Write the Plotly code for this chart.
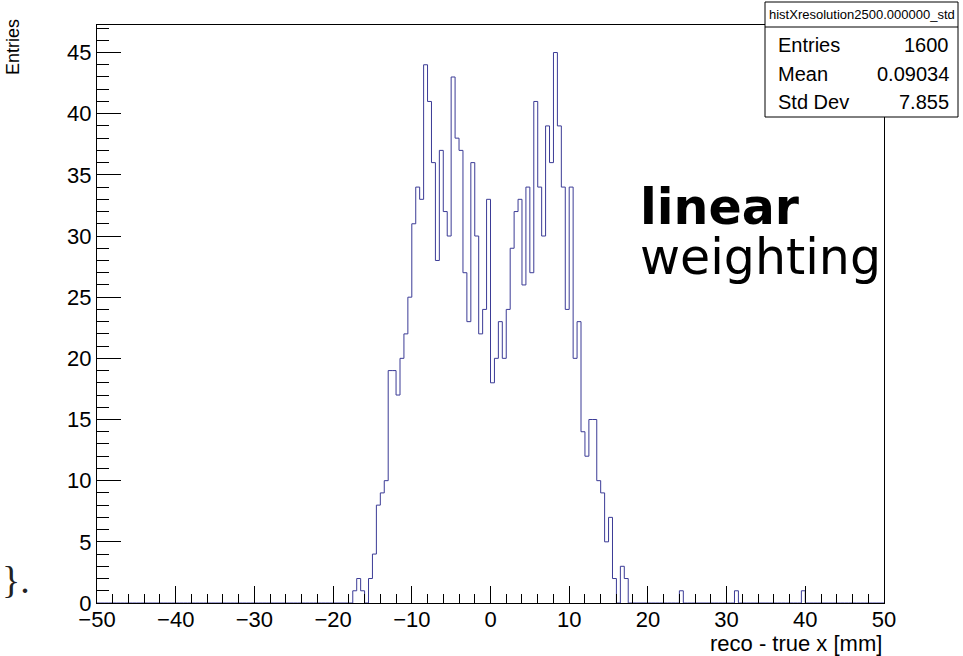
import numpy as np
import plotly.graph_objects as go

# ---------------- data ----------------
x_min, x_max = -50.0, 50.0
bin_width = 0.5
core_start = -17.5  # left edge of first bin in core_counts
core_counts = [1, 2, 1, 0, 2, 4, 8, 9, 10, 19, 19, 17, 20, 22, 25, 31, 34, 33,
               44, 41, 36, 28, 37, 32, 30, 43, 38, 37, 27, 23, 36, 30, 22, 24, 33,
               18, 20, 23, 20, 24, 29, 32, 33, 26, 34, 27, 41, 34, 30, 39, 36, 45,
               39, 34, 24, 34, 20, 23, 14, 12, 15, 15, 10, 9, 5, 7, 2, 0, 3, 2]
isolated_left_edges = [24.0, 31.0, 39.5]
isolated_counts = [1, 1, 1]

stats_name = "histXresolution2500.000000_std"
stats_labels = ["Entries", "Mean", "Std Dev"]
stats_values = ["1600", "0.09034", "7.855"]

x_title = "reco - true x [mm]"
y_title = "Entries"

# ---------------- build histogram ----------------
n_bins = int(round((x_max - x_min) / bin_width))
edges = x_min + bin_width * np.arange(n_bins + 1)
counts = np.zeros(n_bins)
i0 = int(round((core_start - x_min) / bin_width))
counts[i0:i0 + len(core_counts)] = core_counts
for e, c in zip(isolated_left_edges, isolated_counts):
    counts[int(round((e - x_min) / bin_width))] += c

xs = [edges[0]] + list(edges)
ys = [0.0] + list(counts) + [0.0]

y_max = counts.max() * 1.05

# ---------------- layout geometry (pixels) ----------------
W, H = 963, 656
L, R, T, B = 97, 884, 25, 603


def px_x(px):
    return (px - L) / (R - L)


def px_y(py):
    return (B - py) / (B - T)


FONT = "Liberation Sans, Arial, Helvetica, sans-serif"

fig = go.Figure()
fig.add_trace(go.Scatter(
    x=xs, y=ys, mode="lines", line=dict(shape="hv", color="#3b3b96", width=1),
    hoverinfo="skip", showlegend=False))

axis_common = dict(
    showline=True, linecolor="black", linewidth=1, mirror=True,
    ticks="inside", tickcolor="black", tickwidth=1,
    showgrid=False, zeroline=False,
    tickfont=dict(family=FONT, size=22, color="black"),
)

fig.update_xaxes(range=[x_min, x_max], tick0=0, dtick=10, ticklen=17,
                 ticklabelstandoff=-3,
                 minor=dict(ticks="inside", dtick=2, ticklen=9, tickcolor="black", tickwidth=1),
                 **axis_common)
fig.update_yaxes(range=[0, y_max], tick0=0, dtick=5, ticklen=24,
                 minor=dict(ticks="inside", dtick=1, ticklen=12, tickcolor="black", tickwidth=1),
                 **axis_common)

shapes = [
    dict(type="rect", xref="paper", yref="paper",
         x0=px_x(765), x1=px_x(958), y0=px_y(117), y1=px_y(2),
         line=dict(color="black", width=1), fillcolor="white", layer="above"),
    dict(type="line", xref="paper", yref="paper",
         x0=px_x(765), x1=px_x(958), y0=px_y(27), y1=px_y(27),
         line=dict(color="black", width=1), layer="above"),
]

annotations = [
    dict(text=stats_name, x=px_x(861.5), y=px_y(14.5), xanchor="center", yanchor="middle",
         font=dict(family=FONT, size=13, color="black")),
]
row_centers = [45, 74, 102]
for lab, val, yc in zip(stats_labels, stats_values, row_centers):
    annotations.append(dict(text=lab, x=px_x(776), y=px_y(yc), xanchor="left", yanchor="middle",
                            font=dict(family=FONT, size=20, color="black")))
    annotations.append(dict(text=val, x=px_x(951), y=px_y(yc), xanchor="right", yanchor="middle",
                            font=dict(family=FONT, size=20, color="black")))

annotations += [
    dict(text="<b>linear</b>", x=px_x(638), y=px_y(207), xanchor="left", yanchor="middle",
         font=dict(family="DejaVu Sans", size=49, color="black")),
    dict(text="weighting", x=px_x(638), y=px_y(257), xanchor="left", yanchor="middle",
         font=dict(family="DejaVu Sans", size=49, color="black")),
    dict(text=x_title, x=px_x(884), y=px_y(643), xanchor="right", yanchor="middle",
         font=dict(family=FONT, size=22, color="black")),
    dict(text=y_title, x=px_x(13), y=px_y(47), xanchor="center", yanchor="middle",
         textangle=-90, font=dict(family=FONT, size=18, color="black")),
    dict(text="}.", x=px_x(0), y=px_y(580), xanchor="left", yanchor="middle",
         font=dict(family="Liberation Serif, DejaVu Serif, serif", size=38, color="#222222")),
]
for a in annotations:
    a.update(xref="paper", yref="paper", showarrow=False)

fig.update_layout(
    width=W, height=H, autosize=False,
    margin=dict(l=L, r=W - R, t=T, b=H - B, pad=0),
    paper_bgcolor="white", plot_bgcolor="white",
    shapes=shapes, annotations=annotations, showlegend=False,
)

fig.write_html("out.html")
